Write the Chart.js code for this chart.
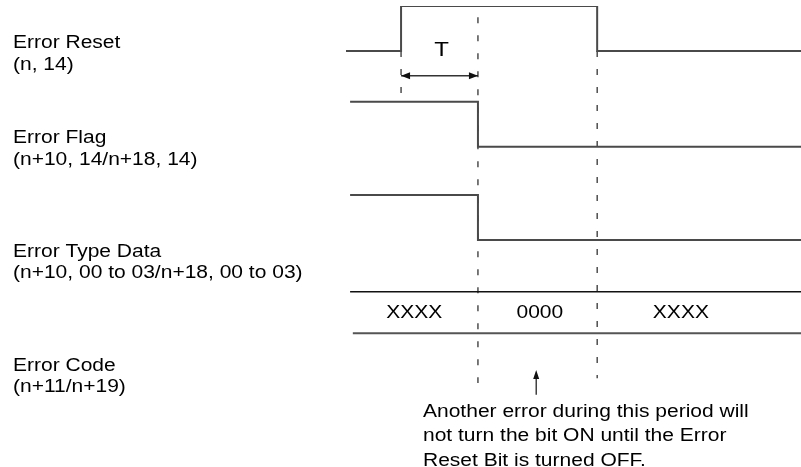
<!DOCTYPE html>
<html>
<head>
<meta charset="utf-8">
<script src="https://cdn.jsdelivr.net/npm/chart.js@4.4.1/dist/chart.umd.min.js"></script>
<style>
  html, body { margin: 0; padding: 0; background: #fff; }
  #wrap { width: 801px; height: 467px; }
</style>
</head>
<body>
<div id="wrap"><canvas id="timing"></canvas></div>
<script>
// Tiempos (unidades arbitrarias 0..100) y estados de cada señal
const resetTimes = [0, 12.1, 55.2, 100];
const resetState = [0, 1, 0, 0];
const flagTimes = [0.9, 29.0, 100];
const flagState = [1, 0, 0];
const typeTimes = [0.9, 29.0, 100];
const typeState = [1, 0, 0];

// Bus del código de error
const busStart = 0.9;
const busEnd = 100;
const busValues = ['XXXX', '0000', 'XXXX'];
const busValueTimes = [15.0, 42.6, 73.6];

// Líneas de referencia punteadas: tiempo, nivel inicial, nivel final
const markerTimes = [12.1, 29.0, 55.2];
const markerFrom = [1.0, 0.25, 1.0];
const markerTo = [2.13, 8.38, 8.27];

// Textos
const rowLabels = [
  ['Error Reset', '(n, 14)'],
  ['Error Flag', '(n+10, 14/n+18, 14)'],
  ['Error Type Data', '(n+10, 00 to 03/n+18, 00 to 03)'],
  ['Error Code', '(n+11/n+19)']
];
const noteLines = [
  'Another error during this period will',
  'not turn the bit ON until the Error',
  'Reset Bit is turned OFF.'
];
const periodLabel = 'T';
const noteTime = 41.8;

// Posición vertical de cada fila (nivel bajo, en unidades del eje y)
const rowLow = [1.0, 3.13, 5.2];
const swing = 1.0;
const busTop = 6.35, busBottom = 7.27;
const labelBase = [0.94, 3.05, 5.57, 8.1];
const periodLevel = 1.55;

const FONT = '17.5px "Liberation Sans", Arial, sans-serif';
const SX = 1.2; // texto algo ensanchado como en la figura

function sig(times, states, row) {
  return times.map((t, i) => ({ x: t, y: rowLow[row] - states[i] * swing }));
}

const sigStyle = { borderColor: '#4a4a4a', borderWidth: 2, stepped: 'before', pointRadius: 0, fill: false };
const dashStyle = { borderColor: '#222', borderWidth: 1.2, borderDash: [6, 12], pointRadius: 0, fill: false };

const datasets = [
  Object.assign({ label: 'Error Reset', data: sig(resetTimes, resetState, 0) }, sigStyle),
  Object.assign({ label: 'Error Flag', data: sig(flagTimes, flagState, 1) }, sigStyle),
  Object.assign({ label: 'Error Type', data: sig(typeTimes, typeState, 2) }, sigStyle),
  { label: 'bus top', data: [{ x: busStart, y: busTop }, { x: busEnd, y: busTop }], borderColor: '#111', borderWidth: 1.6, pointRadius: 0 },
  { label: 'bus bottom', data: [{ x: busStart + 0.6, y: busBottom }, { x: busEnd, y: busBottom }], borderColor: '#555', borderWidth: 2, pointRadius: 0 }
];
markerTimes.forEach((t, i) => {
  datasets.push(Object.assign({ label: 'marker' + i, data: [{ x: t, y: markerFrom[i] }, { x: t, y: markerTo[i] }] }, dashStyle));
});
// línea de cota T
datasets.push({ label: 'T', data: [{ x: markerTimes[0], y: periodLevel }, { x: markerTimes[1], y: periodLevel }], borderColor: '#333', borderWidth: 1.3, pointRadius: 0 });

function scaledText(ctx, s, x, y, align) {
  ctx.save();
  ctx.translate(x, y);
  ctx.scale(SX, 1);
  ctx.textAlign = align;
  ctx.fillText(s, 0, 0);
  ctx.restore();
}

function head(ctx, x, y, dx, dy, len, half) {
  // punta en (x,y), dirección (dx,dy)
  ctx.beginPath();
  ctx.moveTo(x, y);
  ctx.lineTo(x - dx * len - dy * half, y - dy * len + dx * half);
  ctx.lineTo(x - dx * len + dy * half, y - dy * len - dx * half);
  ctx.closePath();
  ctx.fill();
}

const annotations = {
  id: 'annotations',
  afterDatasetsDraw(chart) {
    const ctx = chart.ctx;
    const xs = chart.scales.x, ys = chart.scales.y;
    ctx.save();
    ctx.fillStyle = '#000';
    ctx.font = FONT;
    ctx.textBaseline = 'alphabetic';

    // etiquetas de filas
    rowLabels.forEach((lines, i) => {
      const b = ys.getPixelForValue(labelBase[i]);
      lines.forEach((s, j) => scaledText(ctx, s, 13, b + j * 21.5, 'left'));
    });

    // valores del bus
    ctx.textBaseline = 'middle';
    busValues.forEach((v, i) => {
      scaledText(ctx, v, xs.getPixelForValue(busValueTimes[i]), ys.getPixelForValue((busTop + busBottom) / 2) + 1, 'center');
    });

    // T
    const t0 = xs.getPixelForValue(markerTimes[0]), t1 = xs.getPixelForValue(markerTimes[1]);
    const ty = ys.getPixelForValue(periodLevel);
    ctx.font = '20px "Liberation Sans", Arial, sans-serif';
    scaledText(ctx, periodLabel, (t0 + t1) / 2 + 2, ys.getPixelForValue(0.98), 'center');
    ctx.font = FONT;
    ctx.fillStyle = '#111';
    head(ctx, t0, ty, -1, 0, 9, 3.5);
    head(ctx, t1, ty, 1, 0, 9, 3.5);

    // flecha de la nota
    const nx = xs.getPixelForValue(noteTime);
    const nTop = ys.getPixelForValue(8.09), nBot = ys.getPixelForValue(8.64);
    ctx.strokeStyle = '#111';
    ctx.lineWidth = 1.2;
    ctx.beginPath();
    ctx.moveTo(nx, nBot);
    ctx.lineTo(nx, nTop + 6);
    ctx.stroke();
    head(ctx, nx, nTop, 0, -1, 9, 3);

    // nota
    ctx.fillStyle = '#000';
    ctx.textBaseline = 'alphabetic';
    noteLines.forEach((s, j) => scaledText(ctx, s, 423, 416.5 + j * 24.6, 'left'));
    ctx.restore();
  }
};

new Chart(document.getElementById('timing'), {
  type: 'line',
  data: { datasets: datasets },
  options: {
    responsive: true,
    maintainAspectRatio: false,
    animation: false,
    layout: { padding: { left: 346, right: 0, top: 6, bottom: 11 } },
    plugins: { legend: { display: false }, tooltip: { enabled: false } },
    scales: {
      x: { type: 'linear', min: 0, max: 100, display: false },
      y: { type: 'linear', min: 0, max: 10, reverse: true, display: false }
    }
  },
  plugins: [annotations]
});
</script>
</body>
</html>
